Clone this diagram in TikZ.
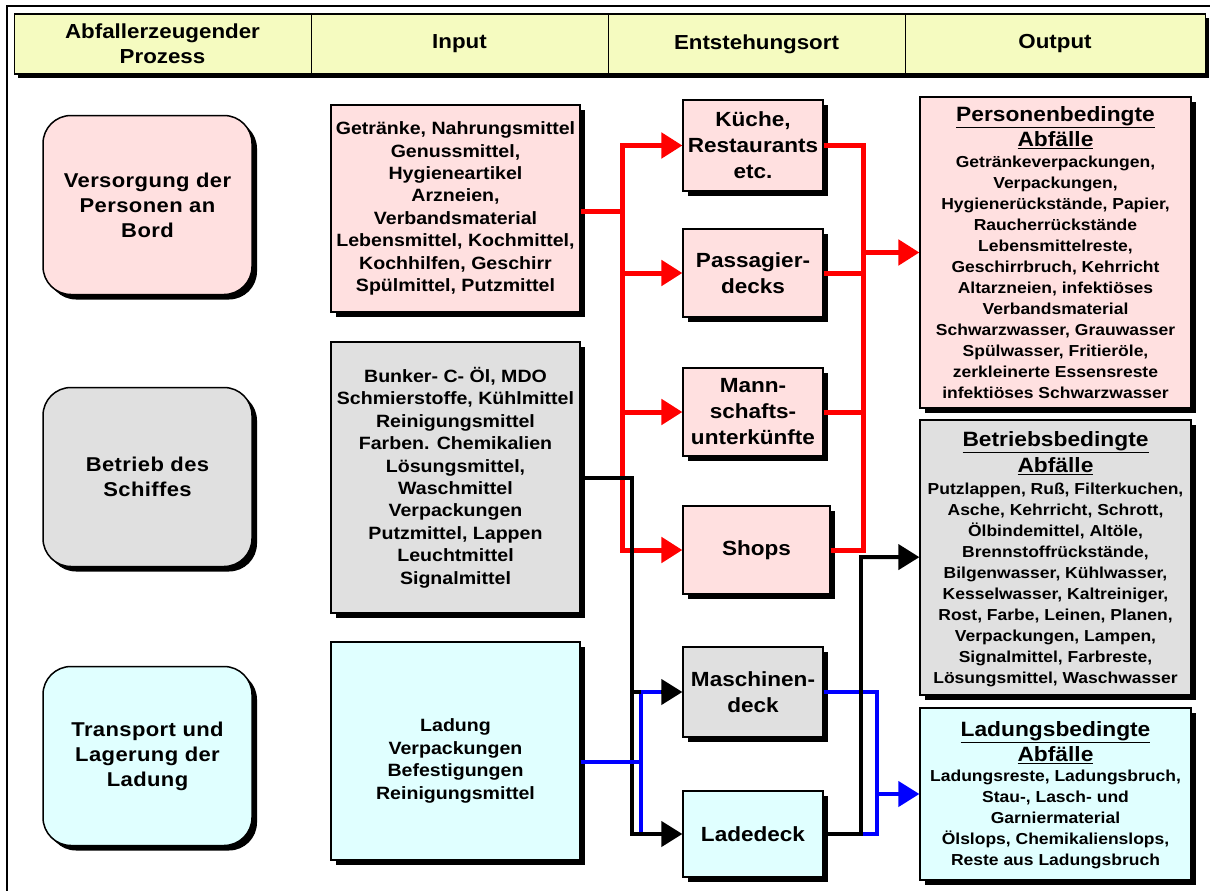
\documentclass[tikz,border=0pt]{standalone}
\usepackage{fontspec}
\setmainfont{Liberation Sans}[FakeStretch=1.1]
\newfontfamily\widefont{Liberation Sans}[FakeStretch=1.1,LetterSpace=2]
\usetikzlibrary{shadows,arrows.meta}
\definecolor{hdrgelb}{RGB}{245,251,192}
\definecolor{rosa}{RGB}{255,224,224}
\definecolor{grau}{RGB}{224,224,224}
\definecolor{hellblau}{RGB}{224,255,255}
\newcommand{\ttlfont}{\bfseries\fontsize{20.7}{25.5}\selectfont}
\newcommand{\bdyfont}{\bfseries\fontsize{15.9}{21}\selectfont}

\begin{document}
\begin{tikzpicture}[x=1pt,y=-1pt,
    every node/.style={inner sep=0pt,align=center},
    schatten/.style={drop shadow={shadow xshift=5pt,shadow yshift=-5pt,fill=black,opacity=1}},
    hcell/.style={draw,line width=1pt,minimum width=297pt,minimum height=60pt,
      font=\bfseries\fontsize{20.3}{25}\selectfont},
    proc/.style={draw,line width=1.5pt,rounded corners=28pt,schatten,
      minimum width=209pt,minimum height=179pt,
      font={\widefont\bfseries\fontsize{20}{25}\selectfont}},
    inbox/.style={draw,line width=1.2pt,schatten,minimum width=249pt,
      font=\bfseries\fontsize{17.8}{22.4}\selectfont},
    ortbox/.style={draw,line width=1.2pt,schatten,minimum width=140pt,
      font=\bfseries\fontsize{20.5}{26}\selectfont},
    outbox/.style={draw,line width=1.2pt,schatten,minimum width=271pt},
    rline/.style={draw=red,line width=5pt},
    kline/.style={draw=black,line width=4pt},
    bline/.style={draw=blue,line width=4pt},
    pfeil/.style={-{Triangle[length=21pt,width=25pt]}}
  ]
  \useasboundingbox (0,0) rectangle (1210,891);
  \draw[line width=2pt] (7,900) -- (7,6) -- (1215,6);

  % Kopfzeile
  \node[draw,fill=hdrgelb,minimum width=1191pt,minimum height=60pt,
    drop shadow={shadow xshift=4pt,shadow yshift=-4pt,fill=black,opacity=1}] (hdr) at (609.5,44) {};
  \node[hcell] (h1) at (162.5,44) {Abfallerzeugender\\Prozess};
  \node[hcell] (h2) at (459.5,44) {Input};
  \node[hcell] (h3) at (756.5,44) {Entstehungsort};
  \node[hcell,minimum width=300pt] (h4) at (1055,44) {Output};

  % Prozesse
  \node[proc,fill=rosa] (pers) at (147.5,205) {Versorgung der\\Personen an\\Bord};
  \node[proc,fill=grau] (betr) at (147.5,477) {Betrieb des\\Schiffes};
  \node[proc,fill=hellblau] (lad) at (147.5,756) {Transport und\\Lagerung der\\Ladung};

  % Input
  \node[inbox,fill=rosa,minimum height=207pt] (inP) at (455.5,208.5) {Getränke, Nahrungsmittel\\Genussmittel,\\Hygieneartikel\\Arzneien,\\Verbandsmaterial\\Lebensmittel, Kochmittel,\\Kochhilfen, Geschirr\\Spülmittel, Putzmittel};
  \node[inbox,fill=grau,minimum height=271pt] (inG) at (455.5,477.5) {Bunker- C- Öl, MDO\\Schmierstoffe, Kühlmittel\\Reinigungsmittel\\Farben. Chemikalien\\Lösungsmittel,\\Waschmittel\\Verpackungen\\Putzmittel, Lappen\\Leuchtmittel\\Signalmittel};
  \node[inbox,fill=hellblau,minimum height=218pt] (inB) at (455.5,751) {};
  \node[font=\bfseries\fontsize{17.8}{22.4}\selectfont] (inBt) at (455.5,761) {Ladung\\Verpackungen\\Befestigungen\\Reinigungsmittel};

  % Entstehungsort
  \node[ortbox,fill=rosa,minimum height=91pt] (kue) at (753,145.5) {Küche,\\Restaurants\\etc.};
  \node[ortbox,fill=rosa,minimum height=88pt] (pass) at (753,273) {Passagier-\\decks};
  \node[ortbox,fill=rosa,minimum height=88pt] (mann) at (753,412) {Mann-\\schafts-\\unterkünfte};
  \node[ortbox,fill=rosa,minimum width=147pt,minimum height=88pt] (shop) at (756.5,550) {Shops};
  \node[ortbox,fill=grau,minimum height=90pt] (masch) at (753,692) {Maschinen-\\deck};
  \node[ortbox,fill=hellblau,minimum height=86pt] (ladd) at (753,834) {Ladedeck};

  % Output
  \node[outbox,fill=rosa,minimum height=311pt] (outP) at (1055.5,252.5) {};
  \node[font=\ttlfont] (outPt) at (1055.5,127.5) {\underline{Personenbedingte}\\\underline{Abfälle}};
  \node[font=\bdyfont] (outPb) at (1055.5,277.5) {Getränkeverpackungen,\\Verpackungen,\\Hygienerückstände, Papier,\\Raucherrückstände\\Lebensmittelreste,\\Geschirrbruch, Kehrricht\\Altarzneien, infektiöses\\Verbandsmaterial\\Schwarzwasser, Grauwasser\\Spülwasser, Fritieröle,\\zerkleinerte Essensreste\\infektiöses Schwarzwasser};
  \node[outbox,fill=grau,minimum height=275pt] (outB) at (1055.5,557.5) {};
  \node[font=\ttlfont] (outBt) at (1055.5,453) {\underline{Betriebsbedingte}\\\underline{Abfälle}};
  \node[font=\bdyfont] (outBb) at (1055.5,584.5) {Putzlappen, Ruß, Filterkuchen,\\Asche, Kehrricht, Schrott,\\Ölbindemittel, Altöle,\\Brennstoffrückstände,\\Bilgenwasser, Kühlwasser,\\Kesselwasser, Kaltreiniger,\\Rost, Farbe, Leinen, Planen,\\Verpackungen, Lampen,\\Signalmittel, Farbreste,\\Lösungsmittel, Waschwasser};
  \node[outbox,fill=hellblau,minimum height=172pt] (outL) at (1055.5,794) {};
  \node[font=\ttlfont] (outLt) at (1055.5,742.5) {\underline{Ladungsbedingte}\\\underline{Abfälle}};
  \node[font=\bdyfont] (outLb) at (1055.5,819.5) {Ladungsreste, Ladungsbruch,\\Stau-, Lasch- und\\Garniermaterial\\Ölslops, Chemikalienslops,\\Reste aus Ladungsbruch};

  % Verbindungen
  \coordinate (rl) at (622,211);
  \coordinate (rr) at (863,252);
  \coordinate (kl) at (632,478);
  \coordinate (kr) at (861,557);
  \coordinate (bl) at (641,762);
  \coordinate (br) at (877,794);

  \draw[rline] (inP.east |- rl) -- (rl);
  \draw[rline,line cap=rect] (rl |- kue) -- (rl |- shop);
  \foreach \z in {kue,pass,mann,shop}
    \draw[rline,pfeil] (rl |- \z) -- (\z);
  \foreach \z in {kue,pass,mann,shop}
    \draw[rline] (\z.east) -- (rr |- \z);
  \draw[rline,line cap=rect] (rr |- kue) -- (rr |- shop);
  \draw[rline,pfeil] (rr |- outP) -- (outP);

  \draw[kline] (inG.east |- kl) -- (kl);
  \draw[kline,line cap=rect] (kl) -- (kl |- ladd);
  \draw[bline] (inB.east |- bl) -- (bl);
  \draw[bline,line cap=rect] (bl |- masch) -- (bl |- ladd);
  \draw[kline,pfeil] (kl |- ladd) -- (ladd);
  \draw[kline] (kl |- masch) -- (bl |- masch);
  \draw[bline] (bl |- masch) -- ([xshift=-20pt]masch.west);
  \draw[kline,pfeil] ([xshift=-21pt]masch.west) -- (masch);

  \draw[bline] (masch.east) -| (br |- ladd) -- (kr |- ladd);
  \draw[bline,pfeil] (br) -- (outL);
  \draw[kline] (ladd.east) -- (kr |- ladd);
  \draw[kline,line cap=rect] (kr |- ladd) -- (kr);
  \draw[kline,pfeil] (kr) -- (outB);
\end{tikzpicture}
\end{document}
